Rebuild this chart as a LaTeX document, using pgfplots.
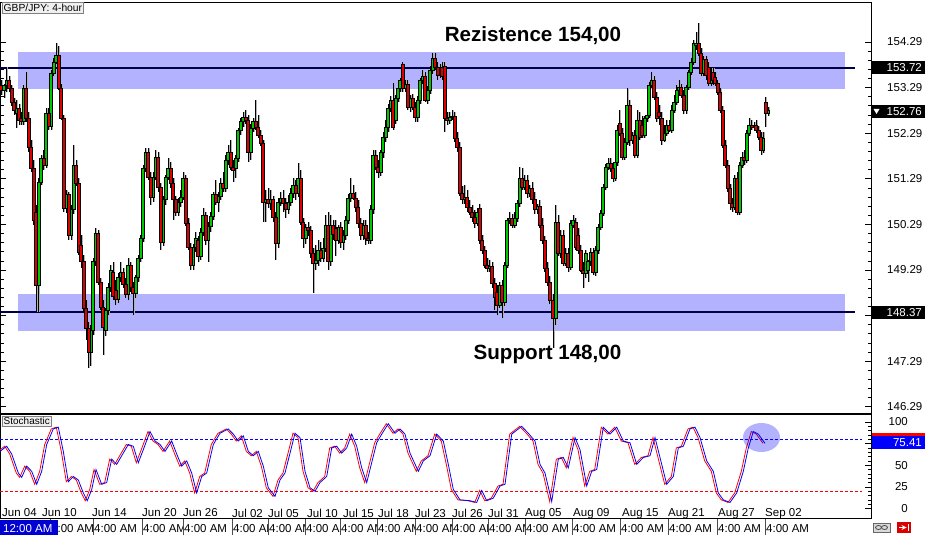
\documentclass[border=0pt]{standalone}
\usepackage{pgfplots}
\pgfplotsset{compat=1.18}
\usepackage{pgfplotstable}
\usepackage{fontspec}
\setmainfont{Liberation Sans}

\definecolor{bull}{RGB}{0,200,0}
\definecolor{bear}{RGB}{220,0,0}
\definecolor{navy}{RGB}{0,0,70}
\definecolor{tagblue}{RGB}{0,0,255}
\definecolor{boxgray}{RGB}{240,240,240}
\definecolor{timeblue}{RGB}{0,0,210}

% candle pieces; lengths come from visualization depends on
\pgfdeclareplotmark{wick}{%
  \pgfpathmoveto{\pgfqpoint{0pt}{0pt}}%
  \pgfpathlineto{\pgfpoint{0pt}{\wlen pt}}%
  \pgfusepathqstroke}
\pgfdeclareplotmark{cbody}{%
  \pgfpathrectangle{\pgfqpoint{-1.5pt}{0pt}}{\pgfpoint{3pt}{\blen pt}}%
  \pgfusepathqfillstroke}

% GBP/JPY 4-hour candles: x position, open, high, low, close
\pgfplotstableread{
x o h l c
1 153.35 153.46 153.13 153.24
4 153.24 153.37 153.06 153.33
6.5 153.33 153.74 153.19 153.46
9 153.46 153.54 153.19 153.28
11.5 153.28 153.35 152.89 152.97
14 152.97 153.06 152.69 152.80
16.5 152.73 153.02 152.40 152.84
19 152.84 152.93 152.47 152.58
21 152.62 152.75 152.47 152.54
23.5 152.54 153.35 152.47 153.28
26 153.28 153.63 152.54 152.62
28.5 152.62 152.75 151.88 151.97
31 151.97 152.14 151.44 151.53
33.5 151.53 151.70 150.28 150.39
36 150.56 150.72 148.37 148.96
38.5 148.96 151.31 148.37 151.22
41 151.22 151.81 151.15 151.75
43.5 151.75 151.92 151.48 151.59
46 151.59 152.84 151.53 152.73
48.5 152.73 152.84 152.36 152.45
51 152.45 153.68 152.36 153.61
53.5 153.61 153.94 153.54 153.85
56 153.85 154.27 153.81 154.00
58.5 154.00 154.20 153.24 153.28
61 153.28 153.37 152.58 152.62
63.5 152.62 152.69 150.56 150.65
66 150.65 151.05 150.54 150.96
68.5 150.96 151.00 149.95 150.04
71 150.04 150.72 149.95 150.61
73.5 150.61 152.03 150.52 151.59
76 151.59 151.70 151.13 151.20
78.5 151.20 151.31 149.62 149.68
81 149.84 150.06 149.33 149.47
83.5 149.47 149.62 148.37 148.46
86 148.46 148.63 147.76 148.02
88.5 148.02 148.15 147.14 147.49
90.5 147.49 148.08 147.19 147.97
93 147.97 149.55 147.86 149.47
95.5 149.47 150.21 149.38 150.10
98 150.10 150.17 148.96 149.03
100.5 149.03 149.11 148.41 148.48
103 148.48 148.63 147.43 148.04
105.5 147.97 148.46 147.84 148.41
108 148.41 149.00 148.30 148.92
110.5 148.92 149.40 148.81 149.29
113 149.25 149.47 148.63 148.72
115.5 148.85 149.07 148.52 148.65
118 148.65 149.22 148.57 149.14
120.5 149.14 149.47 149.03 149.25
123 149.25 149.33 148.89 148.98
125.5 148.98 149.11 148.68 148.76
128 148.76 149.55 148.63 149.40
130.5 149.40 149.47 148.81 148.92
133 148.92 149.03 148.30 148.78
135.5 148.78 149.18 148.68 149.14
138 149.14 149.62 149.03 149.55
140.5 149.55 150.06 149.47 149.99
143 149.99 151.59 149.90 151.53
145.5 151.53 151.97 151.44 151.88
148 151.88 151.97 151.26 151.33
150.5 151.33 151.44 150.72 150.89
153 150.89 151.44 150.78 151.33
155.5 151.33 151.92 151.26 151.77
158 151.77 151.88 151.00 151.11
160.5 151.11 151.20 149.73 149.90
163 149.90 150.91 149.82 150.83
165.5 150.83 151.37 150.72 151.33
168 151.33 151.75 151.26 151.53
170.5 151.53 151.66 151.09 151.20
173 151.20 151.31 150.39 150.83
175.5 150.83 150.91 150.47 150.56
178 150.56 150.87 150.47 150.78
180.5 150.78 151.05 150.67 150.89
183 150.89 151.44 150.83 151.29
185.5 151.29 151.37 150.25 150.32
188 150.32 150.43 149.73 149.79
190.5 149.79 149.88 149.29 149.40
193 149.40 149.86 149.29 149.79
195.5 149.79 150.12 149.68 149.99
198 149.95 150.04 149.47 149.60
200.5 149.60 150.21 149.51 150.12
203 150.12 150.65 150.04 150.50
205.5 150.50 150.56 149.84 149.95
208 149.95 150.34 149.47 150.25
210.5 150.25 150.56 150.12 150.47
213 150.47 151.00 150.39 150.94
215.5 150.94 151.26 150.72 150.78
218 150.78 151.00 150.56 150.91
220.5 150.91 151.31 150.83 151.20
223 151.20 151.44 151.00 151.09
225.5 151.09 151.81 151.00 151.70
228 151.70 152.03 151.59 151.88
230.5 151.88 152.14 151.48 151.55
233 151.55 151.70 151.22 151.48
235.5 151.53 151.81 151.31 151.75
238 151.75 152.40 151.66 152.36
240.5 152.36 152.62 152.25 152.54
243 152.54 152.75 152.43 152.64
245.5 152.64 152.80 152.49 152.58
248 152.58 152.69 151.66 151.86
250.5 151.86 152.49 151.70 152.40
253 152.40 152.62 152.32 152.54
255.5 152.54 153.02 152.36 152.43
258 152.43 152.69 152.18 152.25
260.5 152.25 152.36 152.01 152.07
263 152.07 152.14 150.34 150.78
265.5 150.78 151.05 150.34 150.85
268 150.85 151.09 150.65 150.76
270.5 150.76 151.05 150.61 150.83
273 150.83 150.91 150.34 150.45
275.5 150.45 150.56 149.51 149.88
278 149.88 150.87 149.77 150.78
280.5 150.78 151.00 150.69 150.87
283 150.87 151.05 150.56 150.76
285.5 150.76 150.87 150.43 150.61
288 150.61 150.94 150.52 150.78
290.5 150.78 151.09 150.69 150.98
293 150.98 151.31 150.87 151.15
295.5 151.15 151.26 150.83 150.98
298 150.98 151.64 150.89 151.31
300.5 151.31 151.48 150.28 150.34
303 150.34 150.43 149.77 149.99
305.5 149.99 150.30 149.86 150.23
308 150.23 150.34 150.04 150.17
310.5 150.17 150.25 149.55 149.66
313 149.66 149.77 148.78 149.44
315.5 149.44 149.84 149.29 149.51
318 149.51 149.95 149.38 149.73
320.5 149.73 149.90 149.47 149.55
323 149.55 149.99 149.47 149.77
325.5 149.77 150.50 149.68 150.28
328 150.28 150.56 149.29 149.47
330.5 149.47 150.50 149.38 150.28
333 150.28 150.39 149.95 150.08
335.5 150.21 150.39 149.60 149.95
338 149.95 150.28 149.86 150.23
340.5 150.23 150.34 149.77 149.90
343 149.90 150.17 149.73 150.04
345.5 150.04 150.47 149.95 150.39
348 150.39 150.96 150.30 150.87
350.5 150.87 151.31 150.78 150.98
353 150.98 151.15 150.83 150.87
355.5 150.87 151.00 150.56 150.67
358 150.67 150.83 150.21 150.32
360.5 150.32 150.43 149.95 150.06
363 150.06 150.39 149.95 150.28
365.5 150.28 150.39 149.84 149.99
368 149.99 150.12 149.86 149.95
370.5 149.95 150.72 149.86 150.61
373 150.61 151.92 150.52 151.81
375.5 151.81 151.92 151.48 151.55
378 151.55 151.70 151.31 151.44
380.5 151.44 151.92 151.35 151.86
383 151.86 152.32 151.75 152.21
385.5 152.21 152.58 152.10 152.43
388 152.43 152.93 152.32 152.84
390.5 152.84 153.11 152.75 153.02
393 153.02 153.39 152.36 152.43
395.5 152.58 153.13 152.49 153.06
398 153.06 153.37 152.97 153.28
400 153.28 153.50 153.19 153.46
402.5 153.79 153.85 153.19 153.28
405 153.28 153.46 153.19 153.37
407.5 153.37 153.46 152.80 152.86
410 152.86 153.13 152.75 153.06
412.5 153.06 153.15 152.80 152.86
415 152.86 152.97 152.54 152.64
417.5 152.64 153.11 152.54 153.02
420 153.02 153.50 152.93 153.46
422.5 153.46 153.68 153.37 153.54
425 153.54 153.63 152.97 153.02
427.5 153.02 153.33 152.93 153.24
430 153.24 153.76 153.15 153.68
432.5 153.68 154.05 153.59 153.94
435 153.94 154.05 153.68 153.74
437.5 153.74 153.85 153.46 153.57
440 153.57 153.81 153.50 153.74
442 153.74 153.85 153.46 153.54
444.5 153.76 153.85 152.32 152.62
447 152.62 152.75 152.47 152.58
449.5 152.58 152.75 152.49 152.64
452 152.64 152.80 152.58 152.67
454.5 152.67 152.75 152.10 152.18
457 152.18 152.32 151.88 151.97
459.5 151.97 152.10 150.91 150.98
462 150.98 151.13 150.74 150.83
464.5 150.83 151.15 150.74 150.89
467 150.89 151.05 150.56 150.67
469.5 150.67 150.83 150.50 150.56
472 150.56 150.72 150.34 150.45
474.5 150.45 150.61 150.21 150.32
477 150.32 150.65 150.25 150.56
479.5 150.65 150.74 149.86 149.95
482 149.95 150.06 149.64 149.73
484.5 149.73 149.82 149.33 149.40
487 149.40 149.55 149.25 149.33
489.5 149.33 149.51 149.25 149.38
492 149.38 149.47 148.89 149.00
494.5 149.00 149.11 148.41 148.70
497 148.81 148.96 148.30 148.52
499.5 148.52 149.03 148.46 148.96
502 148.96 149.07 148.24 148.59
504.5 148.59 149.47 148.50 149.40
507 149.40 150.43 149.33 150.39
509.5 150.39 150.56 150.30 150.43
512 150.43 150.52 150.21 150.28
514.5 150.28 150.56 150.21 150.43
517 150.43 150.83 150.34 150.76
519.5 150.76 151.55 150.67 151.31
522 151.31 151.53 151.05 151.11
524.5 151.11 151.37 151.05 151.26
527 151.26 151.37 150.87 150.98
529.5 150.98 151.15 150.89 151.09
532 151.09 151.22 150.74 150.83
534.5 150.83 151.00 150.52 150.61
537 150.61 150.74 150.52 150.69
539.5 150.69 150.83 150.21 150.28
542 150.28 150.43 149.86 149.95
544.5 149.95 150.04 149.25 149.33
547 149.33 149.47 148.94 149.03
549.5 149.03 149.16 148.54 148.63
553 148.63 148.76 147.58 148.24
555.5 148.24 150.72 148.08 150.34
558 150.34 150.50 149.60 149.66
560.5 149.66 150.17 149.55 150.06
563 150.06 150.17 149.38 149.44
565.5 149.44 149.77 149.38 149.66
568 149.66 149.77 149.25 149.36
570.5 149.36 150.39 149.29 150.32
573 150.28 150.50 150.21 150.39
575.5 150.34 150.43 149.73 149.79
578 150.06 150.21 149.64 149.73
580.5 149.73 149.84 149.25 149.29
583 149.29 149.47 148.89 149.22
585.5 149.22 149.73 149.11 149.66
588 149.29 149.51 149.03 149.47
590.5 149.47 149.77 149.38 149.68
593 149.68 149.77 149.18 149.25
595.5 149.25 149.82 149.16 149.73
598 149.73 150.30 149.64 150.23
600.5 150.23 150.61 150.17 150.54
603 150.54 151.18 150.47 151.11
605.5 151.11 151.61 151.05 151.55
608 151.55 151.75 151.48 151.64
610.5 151.64 151.75 151.44 151.53
613 151.53 151.61 151.22 151.31
615 151.31 151.75 151.24 151.66
617 151.66 152.47 151.57 152.36
619.5 152.51 152.80 152.23 152.29
622 152.29 152.40 151.70 151.77
624.5 151.77 152.18 151.70 152.10
627 152.10 153.28 152.03 152.91
629.5 152.91 153.02 152.01 152.14
632 152.14 152.32 152.05 152.25
634.5 152.25 152.36 151.75 151.81
637 151.81 152.80 151.75 152.58
639.5 152.58 152.75 152.14 152.21
642 152.47 152.67 152.18 152.25
644.5 152.25 152.67 152.18 152.62
647 152.62 152.80 152.54 152.69
649 152.69 153.41 152.62 153.35
651.5 153.35 153.63 153.28 153.46
654 153.46 153.54 153.02 153.08
656.5 153.08 153.19 152.54 152.62
659 152.75 152.91 152.47 152.67
661.5 152.62 152.75 152.03 152.14
664 152.14 152.47 152.10 152.29
666.5 152.29 152.58 152.23 152.47
669 152.47 152.58 152.32 152.36
671.5 152.36 152.91 152.29 152.80
674 152.80 153.13 152.73 152.97
676.5 152.97 153.35 152.91 153.24
679 153.24 153.46 153.17 153.30
681 153.30 153.37 153.06 153.13
683.5 153.13 153.24 152.71 152.80
686 152.80 153.35 152.71 153.30
688.5 153.30 153.68 153.24 153.63
691 153.63 153.94 153.57 153.85
693.5 153.85 154.33 153.79 154.27
696 154.22 154.51 154.11 154.27
698.5 154.27 154.71 153.98 154.05
701 154.05 154.16 153.54 153.61
703.5 153.61 153.98 153.54 153.90
706 153.90 153.98 153.46 153.57
708.5 153.74 153.85 153.33 153.39
711 153.39 153.72 153.33 153.63
713 153.63 153.72 153.35 153.46
715 153.52 153.63 153.33 153.39
717.5 153.39 153.46 153.13 153.19
720 153.19 153.28 152.73 152.80
722.5 152.80 152.89 151.97 152.03
725 152.03 152.14 151.53 151.59
727.5 151.59 151.70 151.00 151.09
730 151.09 151.18 150.61 150.76
732 150.76 150.87 150.56 150.67
734.5 150.67 151.37 150.61 151.31
737 151.31 151.44 150.50 150.56
739.5 150.56 151.66 150.50 151.59
742 151.59 151.88 151.53 151.77
744 151.77 151.92 151.59 151.70
746.5 151.70 152.36 151.64 152.29
749 152.29 152.62 152.23 152.47
751.5 152.47 152.58 152.36 152.43
754 152.43 152.54 152.34 152.47
756 152.47 152.58 152.29 152.36
758.5 152.36 152.45 152.14 152.21
761 152.21 152.32 151.81 151.92
763 151.92 152.32 151.86 152.18
765.5 152.97 153.08 152.43 152.73
768 152.73 152.86 152.67 152.80
}\candles

% Stochastic oscillator (main line)
\pgfplotstableread{
x k
0 66
6.7 72
11.7 63
18.3 41
21.7 36
26.7 49
31.7 43
36.7 28
41.7 43
46.7 74
53.3 92
58.3 94
63.3 66
68.3 31
73.3 37
78.3 33
83.3 18
87.3 9
91.7 22
96 45
101.7 28
106.7 30
111.7 57
116.7 51
121.7 61
128.3 74
133.3 72
138.3 53
143.3 68
150 89
155 78
160 74
165 66
171.7 78
176.7 63
181.7 49
186.7 55
191.7 41
196.7 18
201.7 37
206.7 41
213.3 74
220 87
228.3 92
233.3 86
238.3 78
243.3 84
248.3 66
253.3 61
258.3 66
263.3 49
268.3 24
275 14
280 33
285 41
290 64
295 87
300 82
305 43
310 24
315 20
320 30
326.7 37
331.7 70
336.7 72
341.7 64
346.7 70
351.7 86
356.7 72
361.7 47
366.7 30
371.7 53
376.7 76
381.7 86
388.3 98
395 87
400 92
405 86
410 64
418.3 43
423.3 55
430 61
436.7 86
443.3 78
448.3 51
453.3 22
460 10
470 9
476.7 7
481.7 21
486.7 9
493.3 12
500 26
505 28
511.7 86
521.7 95
528.3 87
535 78
540 51
545 41
551.7 8
558.3 57
563.3 59
568.3 47
575 82
580 68
586.7 26
591.7 43
596.7 45
603.3 94
610 86
616.7 94
623.3 78
630 76
636.7 51
643.3 59
650 61
655 82
660 59
666.7 28
673.3 37
678.3 70
683.3 72
690 92
695 94
700 82
706.7 55
713.3 43
718.3 18
723.3 10
730 7
736.7 18
743.3 43
748.3 70
753.3 89
758.3 86
765 75.4
}\stoch

\begin{document}
\begin{tikzpicture}
\useasboundingbox (0pt,0pt) rectangle (925pt,535pt);

% ---- price panel ----
\begin{axis}[
  at={(0pt,122pt)}, anchor=south west, scale only axis,
  width=871pt, height=411pt,
  xmin=0, xmax=871, ymin=146.154, ymax=155.167,
  xtick=\empty,
  ytick={146.29,147.29,148.29,149.29,150.29,151.29,152.29,153.29,154.29},
  yticklabels={146.29,147.29,,149.29,150.29,151.29,152.29,153.29,154.29},
  minor y tick num=4,
  yticklabel pos=right, ytick pos=both,
  tick align=inside,
  major tick length=6pt, minor tick length=3.5pt,
  tick style={black, line width=0.7pt},
  yticklabel style={font=\fontsize{11.5}{13}\selectfont, anchor=west, inner sep=0pt, xshift=16pt},
  axis line style={black, line width=0.9pt},
]
% gray shadow wicks
\addplot[only marks, mark=wick, mark options={draw=black!30, line width=1.4pt},
  visualization depends on={(\thisrow{h}-\thisrow{l})*45.601 \as \wlen}]
  table[x expr=\thisrow{x}+1, y=l] {\candles};
% wicks: mark at the low, drawn up to the high (45.601pt per yen)
\addplot[only marks, mark=wick, mark options={draw=black, line width=0.7pt},
  visualization depends on={(\thisrow{h}-\thisrow{l})*45.601 \as \wlen}]
  table[x=x, y=l] {\candles};
% bullish bodies
\addplot[only marks, mark=cbody, mark options={draw=black, fill=bull, line width=0.6pt},
  restrict expr to domain={\thisrow{c}-\thisrow{o}}{0:100},
  visualization depends on={max((\thisrow{c}-\thisrow{o})*45.601,0.8) \as \blen}]
  table[x=x, y=o] {\candles};
% bearish bodies
\addplot[only marks, mark=cbody, mark options={draw=black, fill=bear, line width=0.6pt},
  restrict expr to domain={\thisrow{o}-\thisrow{c}}{0.0001:100},
  visualization depends on={max((\thisrow{o}-\thisrow{c})*45.601,0.8) \as \blen}]
  table[x=x, y=c] {\candles};

% resistance / support zones
\fill[blue, fill opacity=0.3] (axis cs:18,154.07) rectangle (axis cs:845,153.26);
\fill[blue, fill opacity=0.3] (axis cs:18,148.76) rectangle (axis cs:845,147.95);
\addplot[navy, line width=1.3pt] coordinates {(0,153.72) (855,153.72)};
\addplot[navy, line width=1.3pt] coordinates {(0,148.37) (855,148.37)};
\end{axis}

% ---- stochastic panel ----
\begin{axis}[
  at={(0pt,17pt)}, anchor=south west, scale only axis,
  width=871pt, height=104pt,
  xmin=0, xmax=871, ymin=-10.98, ymax=109.25,
  ytick={0,25,50,75,100}, yticklabels={0,25,50,,100},
  minor y tick num=4,
  yticklabel pos=right, ytick pos=right,
  tick align=inside, major tick length=6pt, minor tick length=3pt,
  tick style={black, line width=0.7pt},
  yticklabel style={font=\fontsize{11.5}{13}\selectfont, anchor=east, inner sep=0pt, xshift=37pt},
  xtick={2,42,92,142,183,232,268,307,343,378,415,452,488,525,573,622,668,718,765},
  xticklabels={Jun 04,Jun 10,Jun 14,Jun 20,Jun 26,Jul 02,Jul 05,Jul 10,Jul 15,Jul 18,Jul 23,Jul 26,Jul 31,Aug 05,Aug 09,Aug 15,Aug 21,Aug 27,Sep 02},
  xtick style={draw=none},
  xticklabel style={font=\fontsize{11.5}{13}\selectfont, anchor=north west, inner sep=0pt, yshift=9.5pt},
  axis line style={black, line width=0.9pt},
]
\addplot[blue, dash pattern=on 2.5pt off 2.5pt, line width=0.9pt] coordinates {(0,80) (862,80)};
\addplot[red, dash pattern=on 2.5pt off 2.5pt, line width=0.9pt] coordinates {(0,20) (862,20)};
\addplot[red, line width=0.8pt] table[x expr=\thisrow{x}-2, y=k] {\stoch};
\addplot[blue, line width=0.8pt] table[x=x, y=k] {\stoch};
\end{axis}

% highlight on the last stochastic swing
\fill[blue, opacity=0.3] (761.5pt,97.5pt) ellipse [x radius=18.5pt, y radius=14.5pt];

% titles and labels
\node[anchor=north west, fill=boxgray, draw=black!50, inner sep=1.5pt, font=\fontsize{10.3}{11}\selectfont] at (2pt,533pt) {GBP/JPY: 4-hour};
\node[anchor=north west, fill=boxgray, draw=black!50, inner sep=1.5pt, font=\fontsize{10}{11}\selectfont] at (2pt,119pt) {Stochastic};
\node[anchor=base, font=\bfseries\fontsize{20.6}{22}\selectfont] at (533pt,493pt) {Rezistence 154,00};
\node[anchor=base, font=\bfseries\fontsize{20.6}{22}\selectfont] at (547.5pt,175pt) {Support 148,00};

% price tags on the right scale
\fill[black] (872pt,461pt) rectangle (925pt,474pt);
\node[anchor=east, text=white, inner sep=0pt, font=\fontsize{11.5}{13}\selectfont] at (922pt,467.5pt) {153.72};
\fill[black] (872pt,417pt) rectangle (925pt,430pt);
\fill[white] (873.5pt,426pt) -- (879.5pt,426pt) -- (876.5pt,421pt) -- cycle;
\node[anchor=east, text=white, inner sep=0pt, font=\fontsize{11.5}{13}\selectfont] at (922pt,423.5pt) {152.76};
\fill[black] (872pt,216pt) rectangle (925pt,229pt);
\node[anchor=east, text=white, inner sep=0pt, font=\fontsize{11.5}{13}\selectfont] at (922pt,222.5pt) {148.37};
\fill[red] (872pt,86pt) rectangle (925pt,101.5pt);
\fill[tagblue] (872pt,86pt) rectangle (925pt,98.5pt);
\node[anchor=east, text=white, inner sep=0pt, font=\fontsize{11.5}{13}\selectfont] at (922pt,92pt) {75.41};

% time scale row
\foreach \s in {50,93,142,183,232,268,305,340,377,415,452,488,525,572,620,668,717,765} {
  \node[anchor=west, fill=white, inner sep=1pt, font=\fontsize{11.5}{13}\selectfont] at (\s pt,6pt) {4:00 AM};
  \draw[black!70, line width=0.8pt] (\s pt,0pt) -- (\s pt,16pt);
}
\fill[timeblue] (0pt,0pt) rectangle (58pt,15pt);
\node[anchor=west, text=white, inner sep=0pt, font=\fontsize{11.5}{13}\selectfont] at (3pt,6pt) {12:00 AM};

% small buttons at the bottom right
\draw[black!60, fill=black!15] (873pt,3pt) rectangle (890pt,12pt);
\draw[black!70, line width=0.8pt] (878.5pt,7.5pt) ellipse [x radius=3pt, y radius=2pt];
\draw[black!70, line width=0.8pt] (884.5pt,7.5pt) ellipse [x radius=3pt, y radius=2pt];
\fill[red!85!black] (897pt,2pt) rectangle (911pt,13pt);
\draw[white, line width=1.2pt, -stealth] (899pt,7.5pt) -- (906.5pt,7.5pt);
\draw[white, line width=1.2pt] (908.5pt,4pt) -- (908.5pt,11pt);
\end{tikzpicture}
\end{document}
